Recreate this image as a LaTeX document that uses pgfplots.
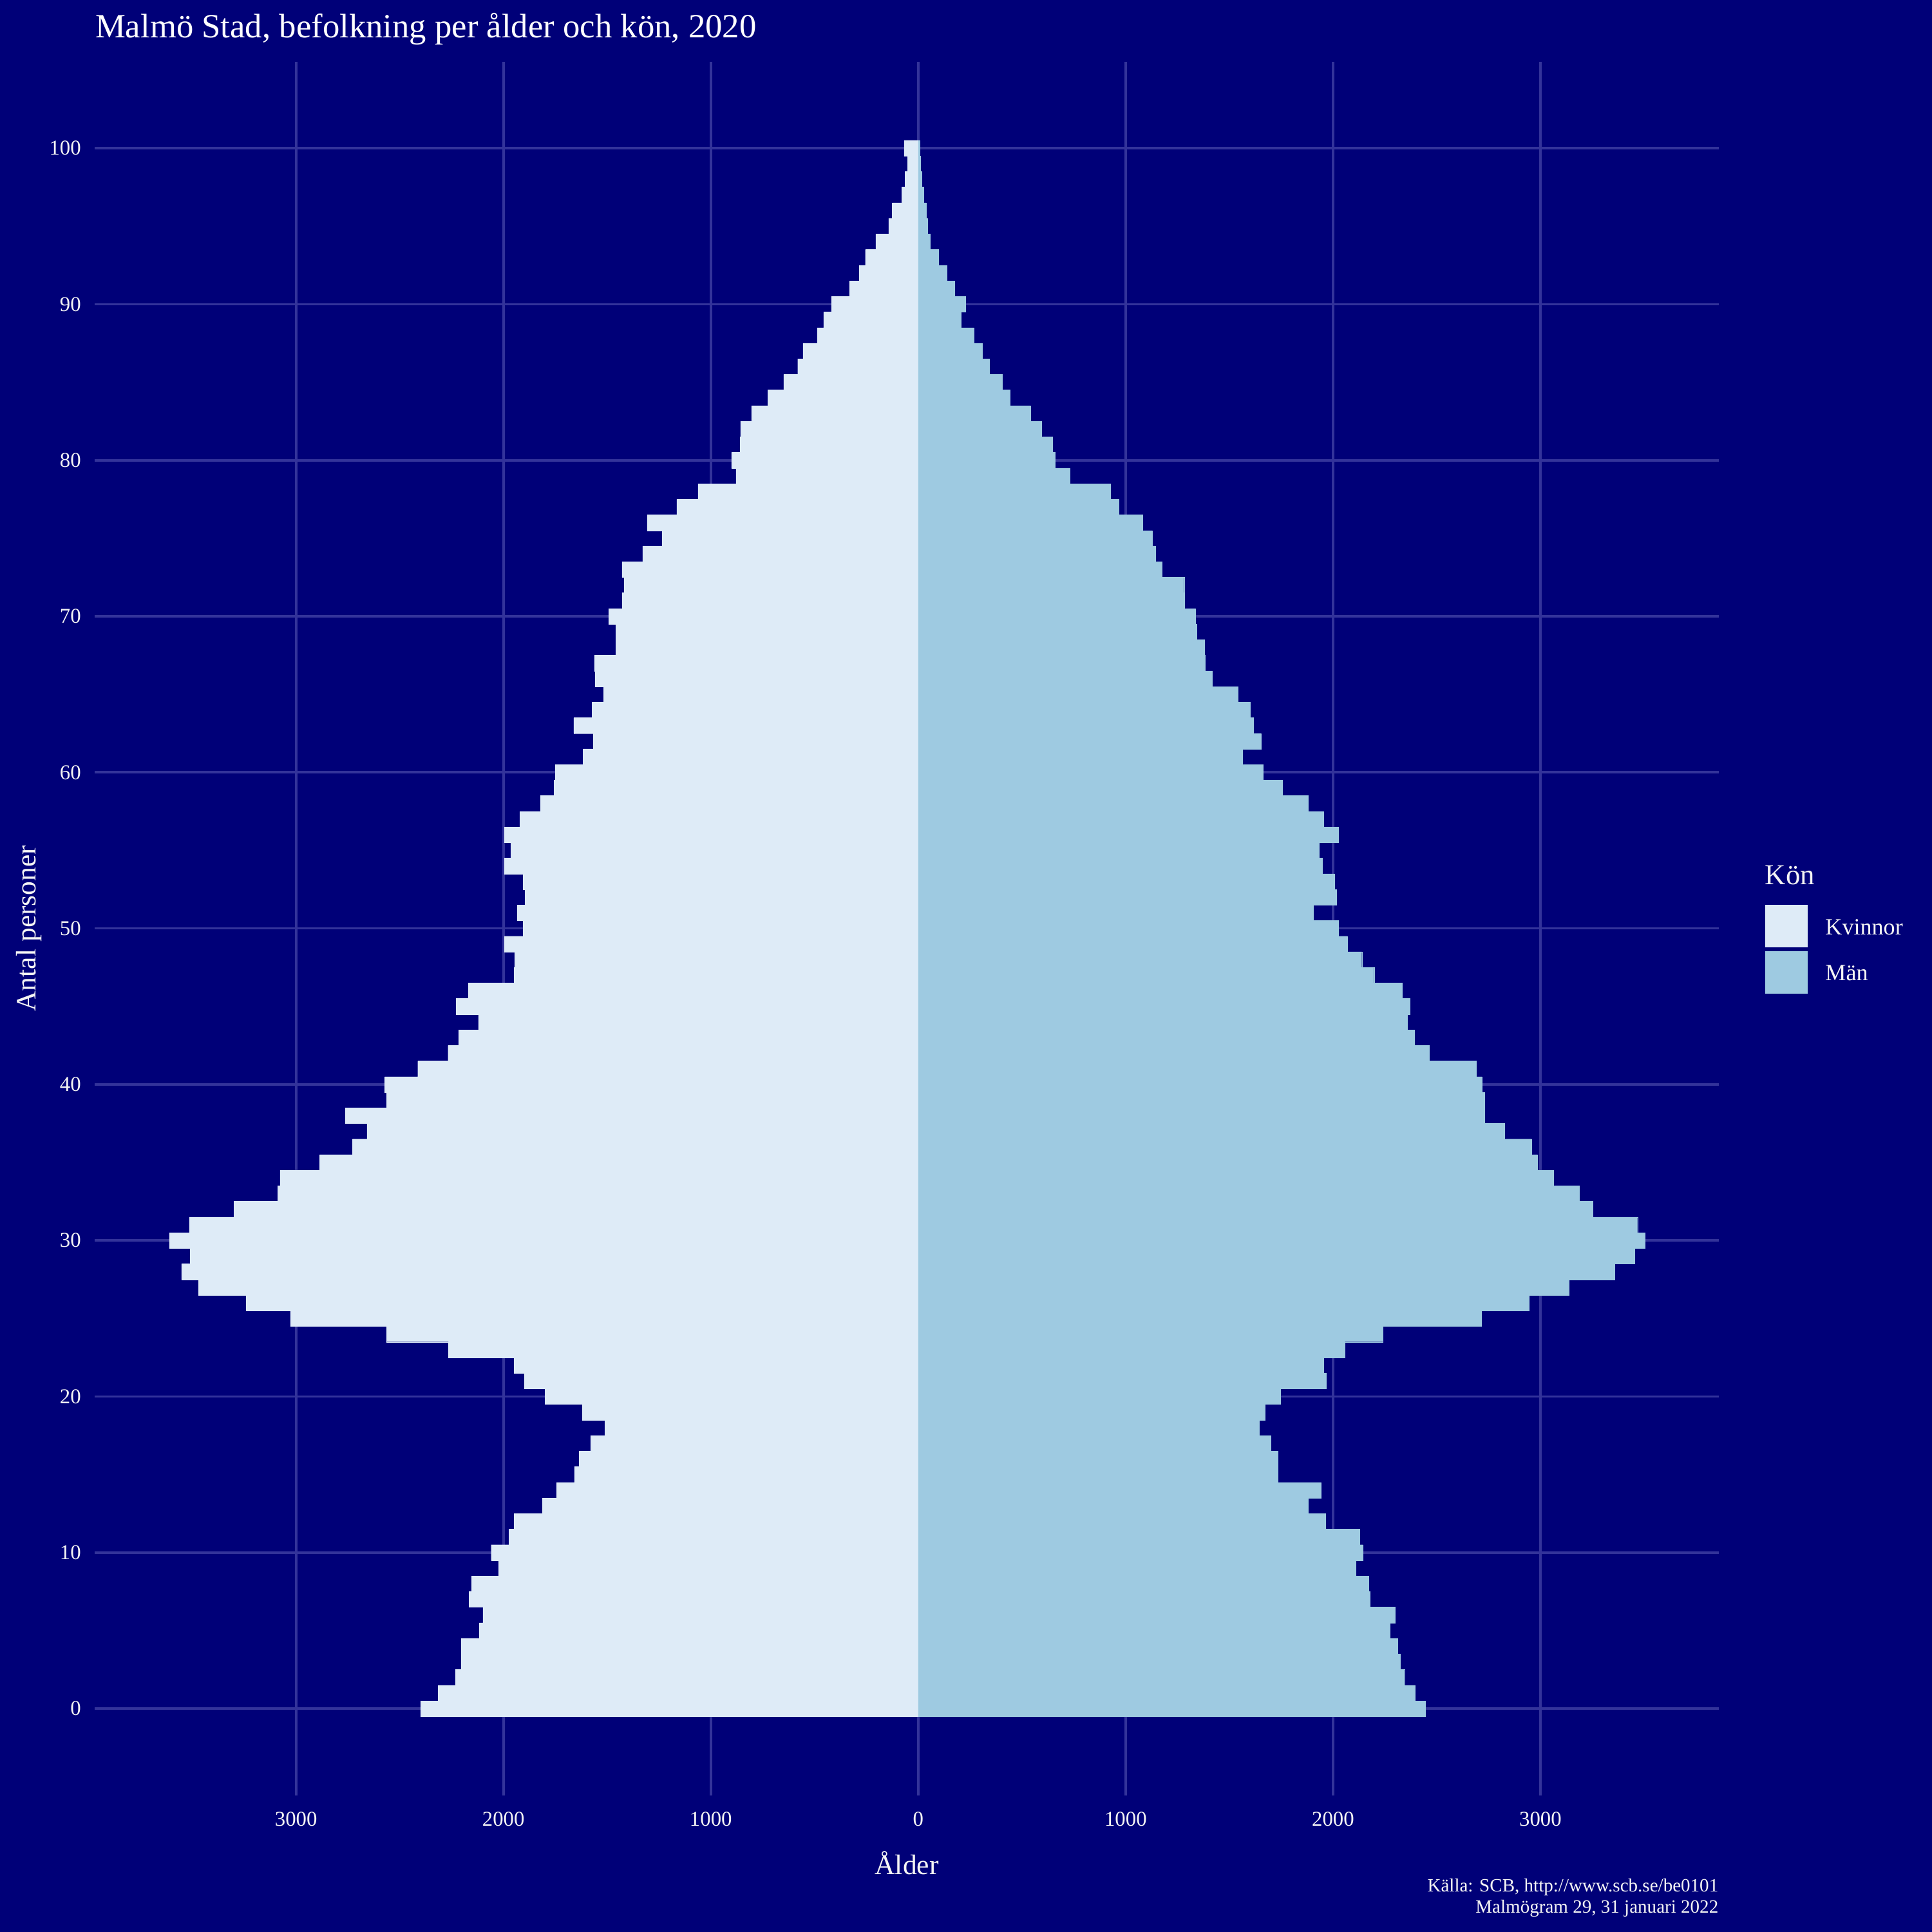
\documentclass[border=0pt]{standalone}
\usepackage{pgfplots}
\pgfplotsset{compat=1.18}
\usepackage{pgfplotstable}
\usepackage{fontspec}
\setmainfont{Liberation Serif}

\definecolor{bg}{HTML}{000078}
\definecolor{gridc}{HTML}{33339A}
\definecolor{kvinnor}{HTML}{DEEBF7}
\definecolor{man}{HTML}{9ECAE1}
\definecolor{txt}{HTML}{F4F4F4}

% Malmö, befolkning per ålder och kön 2020
\pgfplotstableread{
alder kvinnor man
0 2399 2446
1 2314 2394
2 2230 2344
3 2203 2324
4 2203 2312
5 2116 2275
6 2099 2300
7 2166 2178
8 2153 2173
9 2022 2111
10 2059 2144
11 1973 2129
12 1948 1965
13 1812 1881
14 1743 1941
15 1658 1735
16 1634 1735
17 1579 1700
18 1510 1644
19 1619 1673
20 1800 1745
21 1899 1968
22 1948 1955
23 2265 2057
24 2564 2240
25 3027 2715
26 3240 2946
27 3470 3136
28 3552 3359
29 3510 3453
30 3611 3505
31 3515 3468
32 3300 3252
33 3089 3188
34 3077 3064
35 2886 2985
36 2728 2958
37 2658 2827
38 2762 2730
39 2564 2730
40 2572 2718
41 2413 2691
42 2267 2465
43 2215 2391
44 2121 2359
45 2228 2369
46 2168 2332
47 1948 2198
48 1946 2139
49 1995 2069
50 1906 2027
51 1933 1906
52 1896 2015
53 1906 2007
54 1995 1948
55 1963 1933
56 1995 2027
57 1921 1953
58 1822 1881
59 1755 1757
60 1750 1661
61 1616 1562
62 1567 1653
63 1661 1616
64 1572 1601
65 1517 1542
66 1557 1418
67 1562 1384
68 1458 1381
69 1458 1342
70 1493 1337
71 1426 1285
72 1418 1282
73 1428 1176
74 1329 1144
75 1235 1127
76 1307 1082
77 1164 968
78 1062 927
79 879 731
80 900 660
81 859 647
82 857 595
83 804 542
84 724 442
85 649 405
86 581 344
87 556 308
88 487 269
89 456 207
90 419 228
91 332 175
92 285 139
93 255 98
94 205 57
95 143 45
96 125 39
97 80 27
98 64 18
99 52 11
100 68 7
}\pyramid

\begin{document}
\begin{tikzpicture}
\path[use as bounding box, fill=bg] (0,0) rectangle (25.4cm,25.4cm);

\begin{axis}[
    at={(1.247cm,1.798cm)}, anchor=south west,
    width=21.35cm, height=22.792cm, scale only axis,
    xmin=-3970, xmax=3860,
    ymin=-5.55, ymax=105.55,
    axis line style={draw=none},
    major tick length=0pt,
    xtick={-3000,-2000,...,3000},
    xticklabels={3000,2000,1000,0,1000,2000,3000},
    ytick={0,10,...,100},
    grid=major,
    major grid style={gridc, line width=0.9pt},
    tick label style={font=\fontsize{7.9}{9}\selectfont, text=txt, inner sep=0pt},
    xticklabel style={anchor=north, yshift=-6pt},
    yticklabel style={anchor=east, xshift=-5pt},
    /pgf/number format/assume math mode=true,
]
\addplot[xbar, bar width=1, bar shift=0pt, fill=kvinnor, draw=kvinnor, line width=0.1pt]
    table[x expr=-\thisrow{kvinnor}, y=alder] {\pyramid};
\addplot[xbar, bar width=1, bar shift=0pt, fill=man, draw=man, line width=0.1pt]
    table[x=man, y=alder] {\pyramid};
\end{axis}

% titel och axeltitlar
\node[anchor=base west, text=white, inner sep=0pt, font=\fontsize{12.7}{15}\selectfont]
    at (1.247cm,24.906cm) {Malmö Stad, befolkning per ålder och kön, 2020};
\node[anchor=base, text=txt, inner sep=0pt, font=\fontsize{10.5}{12}\selectfont]
    at (11.922cm,0.761cm) {Ålder};
\node[anchor=base, rotate=90, text=txt, inner sep=0pt, font=\fontsize{10.5}{12}\selectfont]
    at (0.47cm,13.194cm) {Antal personer};

% källa
\node[anchor=base east, text=txt, inner sep=0pt, font=\fontsize{7}{8}\selectfont]
    at (22.598cm,0.525cm) {Källa: SCB, http://www.scb.se/be0101};
\node[anchor=base east, text=txt, inner sep=0pt, font=\fontsize{7}{8}\selectfont]
    at (22.598cm,0.249cm) {Malmögram 29, 31 januari 2022};

% förklaring
\node[anchor=base west, text=txt, inner sep=0pt, font=\fontsize{10.8}{12}\selectfont]
    at (23.197cm,13.769cm) {Kön};
\fill[kvinnor] (23.209cm,12.946cm) rectangle (23.767cm,13.505cm);
\fill[man] (23.209cm,12.335cm) rectangle (23.767cm,12.894cm);
\node[anchor=base west, text=txt, inner sep=0pt, font=\fontsize{8.7}{10}\selectfont]
    at (23.991cm,13.110cm) {Kvinnor};
\node[anchor=base west, text=txt, inner sep=0pt, font=\fontsize{8.7}{10}\selectfont]
    at (23.991cm,12.509cm) {Män};
\end{tikzpicture}
\end{document}
